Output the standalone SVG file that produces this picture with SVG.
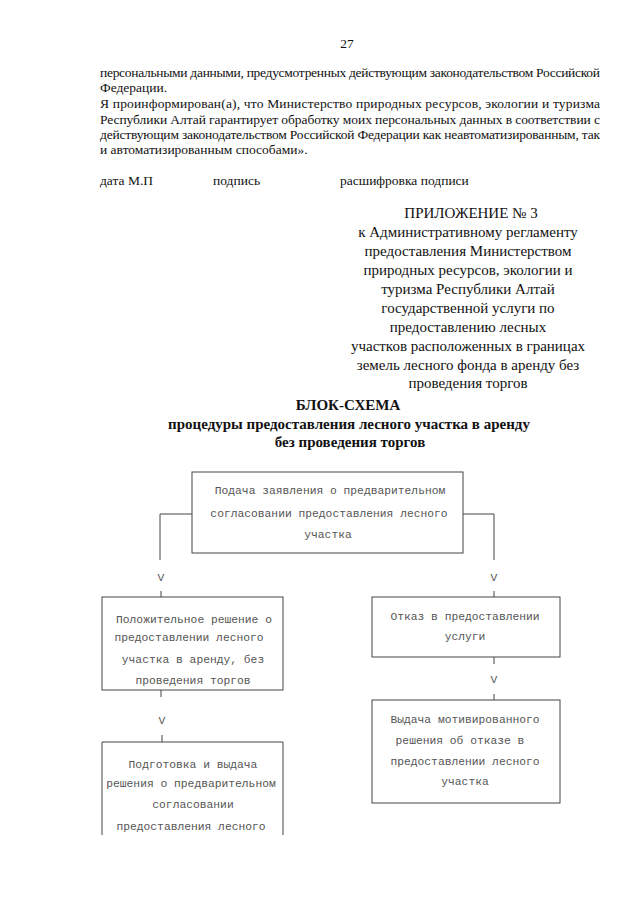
<svg xmlns="http://www.w3.org/2000/svg" width="640" height="905" viewBox="0 0 640 905">
<style>
.p{font-family:"Liberation Serif","Times New Roman",serif;font-size:13.5px;fill:#111}
.a{font-family:"Liberation Serif","Times New Roman",serif;font-size:15px;fill:#111;text-anchor:middle}
.t{font-family:"Liberation Serif","Times New Roman",serif;font-size:15px;font-weight:bold;fill:#111;text-anchor:middle}
.m{font-family:"Liberation Mono","Courier New",monospace;font-size:11.3px;fill:#555;text-anchor:middle}
.b{fill:none;stroke:#444;stroke-width:1}
.c{fill:none;stroke:#444;stroke-width:1}
</style>
<rect width="640" height="905" fill="#fff"/>
<g id="header">
<text class="p" x="347" y="48" text-anchor="middle">27</text>
<text class="p" x="100" y="77" textLength="500" lengthAdjust="spacing">персональными данными, предусмотренных действующим законодательством Российской</text>
<text class="p" x="100" y="92">Федерации.</text>
<text class="p" x="100" y="108" textLength="500" lengthAdjust="spacing">Я проинформирован(а), что Министерство природных ресурсов, экологии и туризма</text>
<text class="p" x="100" y="124" textLength="500" lengthAdjust="spacing">Республики Алтай гарантирует обработку моих персональных данных в соответствии с</text>
<text class="p" x="100" y="139" textLength="500" lengthAdjust="spacing">действующим законодательством Российской Федерации как неавтоматизированным, так</text>
<text class="p" x="100" y="154">и автоматизированным способами».</text>
<text class="p" x="100" y="185">дата М.П</text>
<text class="p" x="213" y="185">подпись</text>
<text class="p" x="340" y="185">расшифровка подписи</text>
</g>
<g id="appendix">
<text class="a" x="471" y="218">ПРИЛОЖЕНИЕ № 3</text>
<text class="a" x="468" y="237">к Административному регламенту</text>
<text class="a" x="468" y="256">предоставления Министерством</text>
<text class="a" x="468" y="275">природных ресурсов, экологии и</text>
<text class="a" x="468" y="294">туризма Республики Алтай</text>
<text class="a" x="468" y="313">государственной услуги по</text>
<text class="a" x="468" y="332">предоставлению лесных</text>
<text class="a" x="468" y="351">участков расположенных в границах</text>
<text class="a" x="468" y="370">земель лесного фонда в аренду без</text>
<text class="a" x="468" y="388">проведения торгов</text>
</g>
<g id="title">
<text class="t" x="348" y="410">БЛОК-СХЕМА</text>
<text class="t" x="349" y="429">процедуры предоставления лесного участка в аренду</text>
<text class="t" x="350" y="447">без проведения торгов</text>
</g>
<g id="connectors">
<path class="c" d="M192 514 H160 V560"/>
<path class="c" d="M463 514 H494 V560"/>
<text class="m" x="161" y="581">V</text>
<text class="m" x="494" y="581">V</text>
<path class="c" d="M161 591 V597"/>
<path class="c" d="M494 591 V597"/>
<path class="c" d="M161 690 V697"/>
<text class="m" x="162" y="724">V</text>
<path class="c" d="M162 735 V742"/>
<path class="c" d="M494 657 V664"/>
<text class="m" x="494" y="683">V</text>
<path class="c" d="M494 694 V700"/>
</g>
<g id="node-application">
<rect class="b" x="192" y="472" width="271" height="81"/>
<text class="m" x="330" y="494">Подача заявления о предварительном</text>
<text class="m" x="329" y="517">согласовании предоставления лесного</text>
<text class="m" x="328" y="538">участка</text>
</g>
<g id="node-positive">
<rect class="b" x="102" y="597" width="181" height="93"/>
<text class="m" x="194" y="623">Положительное решение о</text>
<text class="m" x="189" y="641">предоставлении лесного</text>
<text class="m" x="193" y="663">участка в аренду, без</text>
<text class="m" x="193" y="684">проведения торгов</text>
</g>
<g id="node-refusal">
<rect class="b" x="372" y="597" width="188" height="60"/>
<text class="m" x="465" y="620">Отказ в предоставлении</text>
<text class="m" x="465" y="640">услуги</text>
</g>
<g id="node-refusal-decision">
<rect class="b" x="372" y="700" width="188" height="103"/>
<text class="m" x="465" y="723">Выдача мотивированного</text>
<text class="m" x="460" y="744">решения об отказе в</text>
<text class="m" x="465" y="765">предоставлении лесного</text>
<text class="m" x="465" y="785">участка</text>
</g>
<g id="node-preparation">
<path class="b" d="M102 835 V742 H283 V835"/>
<text class="m" x="193" y="768">Подготовка и выдача</text>
<text class="m" x="191" y="787">решения о предварительном</text>
<text class="m" x="193" y="808">согласовании</text>
<text class="m" x="191" y="830">предоставления лесного</text>
</g>
</svg>
